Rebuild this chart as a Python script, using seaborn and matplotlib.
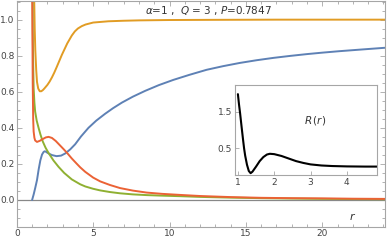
import numpy as np
import pandas as pd
import matplotlib
matplotlib.use("Agg")
import matplotlib.pyplot as plt
import seaborn as sns
from matplotlib.ticker import MultipleLocator, FormatStrFormatter

# curve values
r_blue = [1.0, 1.1, 1.2, 1.32, 1.43, 1.54, 1.65, 1.75, 1.82, 1.9, 2.0, 2.15, 2.3, 2.6, 2.9,
          3.17, 3.5, 3.82, 4.2, 4.69, 5.2, 5.78, 6.3, 6.88, 7.6, 8.4, 9.3, 10.25, 11.3, 12.43,
          13.5, 14.6, 15.7, 16.8, 17.9, 19.0, 20.0, 21.1, 22.5, 24.1]
blue = [0.0, 0.03, 0.065, 0.11, 0.17, 0.22, 0.252, 0.266, 0.27, 0.268, 0.262, 0.255, 0.249,
        0.243, 0.246, 0.258, 0.281, 0.309, 0.352, 0.400, 0.440, 0.478, 0.509, 0.540, 0.573,
        0.605, 0.637, 0.666, 0.694, 0.722, 0.742, 0.760, 0.775, 0.788, 0.799, 0.809, 0.817,
        0.825, 0.834, 0.844]

r_orange = [1.12, 1.14, 1.17, 1.21, 1.27, 1.32, 1.4, 1.5, 1.6, 1.7, 1.8, 2.0, 2.15, 2.3, 2.45,
            2.6, 2.95, 3.3, 3.6, 3.8, 4.0, 4.25, 4.5, 5.0, 6.0, 7.0, 8.0, 10.0, 13.0, 17.0, 24.1]
orange = [1.2, 1.10, 0.95, 0.83, 0.72, 0.655, 0.618, 0.603, 0.603, 0.609, 0.618, 0.638, 0.657,
          0.68, 0.706, 0.735, 0.805, 0.868, 0.912, 0.935, 0.951, 0.964, 0.973, 0.984, 0.991,
          0.994, 0.996, 0.998, 0.999, 1.0, 1.0]

r_green = [1.02, 1.04, 1.07, 1.1, 1.15, 1.2, 1.3, 1.43, 1.55, 1.7, 1.88, 2.08, 2.4, 2.73, 3.1,
           3.6, 4.15, 4.48, 5.0, 5.46, 6.1, 6.76, 7.6, 8.5, 9.5, 10.7, 12.0, 14.0, 16.0, 18.0,
           20.0, 22.0, 24.1]
green = [1.3, 0.95, 0.75, 0.62, 0.54, 0.49, 0.44, 0.398, 0.362, 0.324, 0.29, 0.26, 0.219,
         0.184, 0.150, 0.114, 0.087, 0.075, 0.062, 0.053, 0.044, 0.037, 0.031, 0.027, 0.024,
         0.021, 0.017, 0.013, 0.01, 0.008, 0.006, 0.005, 0.004]

r_red = [1.0, 1.02, 1.04, 1.07, 1.1, 1.15, 1.2, 1.32, 1.5, 1.7, 1.9, 2.08, 2.3, 2.55, 2.8, 3.05,
         3.28, 3.6, 3.9, 4.15, 4.48, 5.0, 5.46, 6.1, 6.76, 7.6, 8.5, 9.5, 10.7, 12.0, 14.0, 16.0,
         18.0, 20.0, 22.0, 24.1]
red = [1.3, 0.95, 0.65, 0.45, 0.38, 0.345, 0.33, 0.322, 0.328, 0.338, 0.347, 0.35, 0.344,
       0.327, 0.305, 0.283, 0.262, 0.230, 0.203, 0.181, 0.156, 0.124, 0.103, 0.083, 0.066,
       0.052, 0.041, 0.034, 0.028, 0.022, 0.016, 0.012, 0.01, 0.009, 0.007, 0.006]

# inset R(r)
r_inset = [1.0, 1.03, 1.06, 1.1, 1.14, 1.17, 1.2, 1.25, 1.3, 1.35, 1.4, 1.5, 1.6, 1.7, 1.8,
           1.88, 2.0, 2.2, 2.4, 2.6, 2.8, 3.0, 3.3, 3.6, 4.0, 4.5, 4.83]
R_inset = [1.98, 1.7, 1.46, 1.1, 0.75, 0.5, 0.3, 0.05, -0.12, -0.18, -0.14, 0.0, 0.15, 0.26,
           0.33, 0.35, 0.34, 0.29, 0.22, 0.15, 0.1, 0.06, 0.03, 0.015, 0.005, 0.0, 0.0]

title_txt = r"$\alpha$=1 ,  $Q$ = 3 , $P$=0.7847"

sns.set_style("ticks")
plt.rcParams["font.family"] = ["DejaVu Sans"]
plt.rcParams["mathtext.fontset"] = "dejavusans"

frame_col = "#a6a6a6"
label_col = "#444444"

fig = plt.figure(figsize=(3.87, 2.41), dpi=100)
ax = fig.add_axes([0.0435, 0.058, 0.951, 0.939])

ax.axhline(0, color="#888888", lw=0.9, zorder=1)

sns.lineplot(x=r_blue, y=blue, color="#5E81B5", lw=1.4, ax=ax, sort=False)
sns.lineplot(x=r_orange, y=orange, color="#E19C24", lw=1.4, ax=ax, sort=False)
sns.lineplot(x=r_green, y=green, color="#8FB032", lw=1.4, ax=ax, sort=False)
sns.lineplot(x=r_red, y=red, color="#EB6235", lw=1.4, ax=ax, sort=False)

ax.set_xlim(0, 24.1)
ax.set_ylim(-0.15, 1.105)
ax.xaxis.set_major_locator(MultipleLocator(5))
ax.xaxis.set_minor_locator(MultipleLocator(1))
ax.yaxis.set_major_locator(MultipleLocator(0.2))
ax.yaxis.set_minor_locator(MultipleLocator(0.05))
ax.yaxis.set_major_formatter(FormatStrFormatter("%.1f"))

for s in ax.spines.values():
    s.set_color(frame_col)
    s.set_linewidth(0.8)
ax.tick_params(which="both", direction="in", top=True, right=True, color=frame_col,
               labelsize=6.5, labelcolor=label_col, width=0.6, pad=1.5)
ax.tick_params(which="major", length=3.5)
ax.tick_params(which="minor", length=2)

ax.text(0.52, 0.957, title_txt, transform=ax.transAxes, ha="center", va="center",
        fontsize=7.5, color="#333333")
ax.text(22.0, -0.094, r"$r$", ha="center", va="center", fontsize=8, color="#333333")

# inset
ins = fig.add_axes([235 / 387, 1 - 175 / 241, 142 / 387, 90 / 241])
ins.set_facecolor("white")
sns.lineplot(x=r_inset, y=R_inset, color="black", lw=1.5, ax=ins, sort=False)
ins.set_xlim(0.92, 4.83)
ins.set_ylim(-0.23, 2.23)
ins.set_xticks([1, 2, 3, 4])
ins.set_yticks([0.5, 1.5])
ins.set_yticklabels(["0.5", "1.5"])
for s in ins.spines.values():
    s.set_color(frame_col)
    s.set_linewidth(0.8)
ins.tick_params(direction="in", length=3, color=frame_col, labelsize=6.5,
                labelcolor=label_col, width=0.6, pad=2)
ins.text(3.12, 1.27, r"$R\,(r)$", ha="center", va="center", fontsize=7.5, color="#333333")

fig.savefig("out.png", dpi=100)
